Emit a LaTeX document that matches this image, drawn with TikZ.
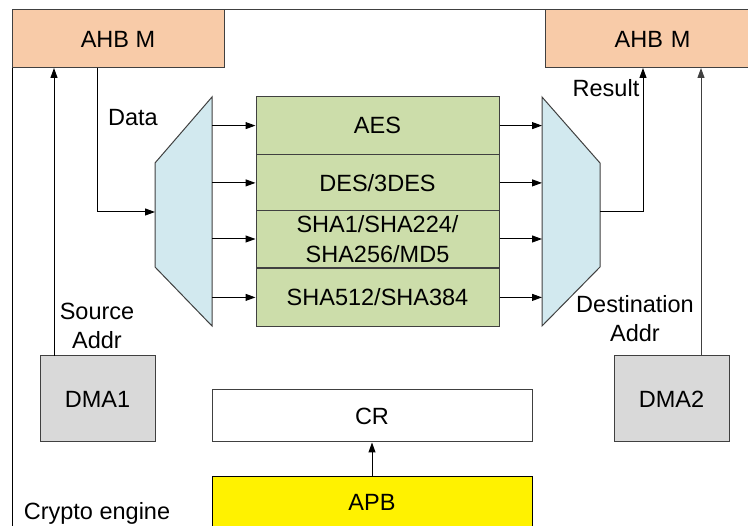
\documentclass[tikz,border=0pt]{standalone}
\usepackage{fontspec}
\setmainfont{Liberation Sans}
\usetikzlibrary{arrows.meta}
\definecolor{peach}{HTML}{F8CBA8}
\definecolor{muxblue}{HTML}{D2E9EF}
\definecolor{olivegreen}{HTML}{CCDDAA}
\definecolor{dmagray}{HTML}{D9D9D9}
\definecolor{edgegray}{HTML}{404040}
\tikzset{
  txt/.style={font=\fontsize{23.5}{29}\selectfont, text=black},
  box/.style={txt, draw=edgegray, line width=1pt, inner sep=0pt, anchor=center},
  arr/.style={line width=1pt, -{Triangle[length=10pt,width=7pt]}},
  wire/.style={line width=1pt},
}
\begin{document}
\begin{tikzpicture}[x=1pt,y=-1pt]
\useasboundingbox (0,0) rectangle (748,526);
\begin{scope}
\clip (0,0) rectangle (748,526);
% frame
\draw[line width=1pt, black] (12,560) -- (12,10);
\draw[line width=1pt, edgegray] (12,10) -- (760,10);
% top boxes
\node[box, fill=peach, minimum width=212pt, minimum height=58pt] (ahbL) at (118,39) {AHB M};
\node[box, fill=peach, minimum width=215pt, minimum height=58pt, text width=215pt, align=center] (ahbR) at (652.5,39) {AHB M};
% DMA boxes
\node[box, fill=dmagray, minimum width=115pt, minimum height=86pt] (dma1) at (97.5,399) {DMA1};
\node[box, fill=dmagray, minimum width=115pt, minimum height=86pt] (dma2) at (671.5,399) {DMA2};
% CR / APB
\node[box, fill=white, minimum width=320pt, minimum height=52pt] (cr) at (372,416) {CR};
\node[box, fill=yellow, draw=black, minimum width=320pt, minimum height=50pt] (apb) at (372,502) {APB};
% algorithm stack
\node[box, fill=olivegreen, minimum width=243pt, minimum height=57.25pt] (aes) at (377.5,125.6) {AES};
\node[box, fill=olivegreen, minimum width=243pt, minimum height=57.25pt] (des) at (377.5,182.9) {DES/3DES};
\node[box, fill=olivegreen, minimum width=243pt, minimum height=57.25pt, align=center, font=\fontsize{23.5}{30}\selectfont] (sha1) at (377.5,239) {SHA1/SHA224/\\SHA256/MD5};
\node[box, fill=olivegreen, minimum width=243pt, minimum height=57.25pt] (sha5) at (377.5,297.4) {SHA512/SHA384};
% muxes
\draw[line width=1pt, draw=edgegray, fill=muxblue] (155,163) -- (212,97) -- (212,326) -- (155,267) -- cycle;
\draw[line width=1pt, draw=edgegray, fill=muxblue] (542,97) -- (600,163) -- (600,267) -- (542,326) -- cycle;
\coordinate (lmuxin) at (155,212);
\coordinate (lmuxout) at (212,0);
\coordinate (rmuxin) at (542,0);
\coordinate (rmuxout) at (600,212);
% mux -> stack -> mux arrows
\foreach \n in {aes,des,sha1,sha5} {
  \draw[arr] (\n.west -| lmuxout) -- (\n.west);
  \draw[arr] (\n.east) -- (\n.east -| rmuxin);
}
% Data path
\coordinate (dtop) at (97.5,68);
\coordinate (dcorner) at (97.5,212);
\draw[arr] (dtop) -- (dcorner) -- (lmuxin);
% Result path
\coordinate (rcorner) at (643,212);
\coordinate (rtop) at (643,68);
\draw[arr] (rmuxout) -- (rcorner) -- (rtop);
% DMA address paths
\coordinate (s1) at (54,356);
\coordinate (s1t) at (54,68);
\draw[arr] (s1) -- (s1t);
\coordinate (s2) at (701,356);
\coordinate (s2t) at (701,68);
\draw[arr, draw=edgegray] (s2) -- (s2t);
% APB -> CR
\draw[arr] (apb.north) -- (cr.south);
% labels
\node[txt] (ldata) at (133,118) {Data};
\node[txt] (lresult) at (606,88) {Result};
\node[txt, align=center] (lsrc) at (97,326) {Source\\Addr};
\node[txt, align=center] (ldst) at (635,319) {Destination\\Addr};
\node[txt] (lce) at (97,513) {Crypto engine};
\end{scope}
\end{tikzpicture}
\end{document}
